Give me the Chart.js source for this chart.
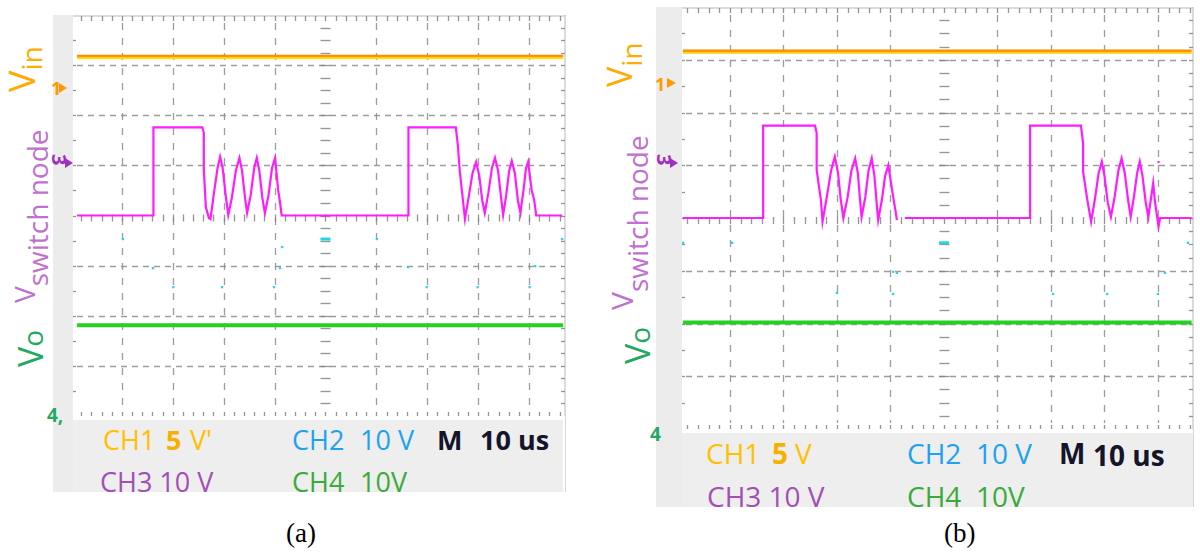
<!DOCTYPE html>
<html>
<head>
<meta charset="utf-8">
<script src="https://cdn.jsdelivr.net/npm/chart.js@4.4.1/dist/chart.umd.min.js"></script>
<style>
  html, body { margin: 0; padding: 0; background: #fff; }
  #stage { position: relative; width: 1200px; height: 553px; overflow: hidden; }
  #deco { position: absolute; left: 0; top: 0; }
  .plot { position: absolute; }
  .lbl { font-family: "Open Sans", sans-serif; }
</style>
</head>
<body>
<div id="stage">
  <svg id="deco" width="1200" height="553" xmlns="http://www.w3.org/2000/svg">
    <!-- scope (a): side strip and readout box -->
    <rect x="53" y="15" width="20" height="477" fill="#ececec"/>
    <rect x="73" y="420" width="490" height="72" fill="#eeeeee"/>
    <line x1="565.5" y1="416" x2="565.5" y2="492" stroke="#d6d6d6"/>

    <!-- scope (b): side strip and readout box -->
    <rect x="656" y="7" width="26" height="500" fill="#ececec"/>
    <rect x="682" y="433" width="511" height="74" fill="#eeeeee"/>
    <line x1="1193.5" y1="429" x2="1193.5" y2="507" stroke="#d6d6d6"/>

    <!-- trace names, scope (a) -->
    <text class="lbl" transform="translate(35,92) rotate(-90)" font-size="36" fill="#ffab00">V<tspan font-size="28" dy="7">in</tspan></text>
    <text class="lbl" transform="translate(35,303) rotate(-90)" font-size="28" fill="#c070cf">V<tspan dy="13">switch node</tspan></text>
    <text class="lbl" transform="translate(43,367) rotate(-90)" fill="#22a860"><tspan font-size="34">V</tspan><tspan font-size="28">o</tspan></text>

    <!-- trace names, scope (b) -->
    <text class="lbl" transform="translate(632,87) rotate(-90)" font-size="34" fill="#ffab00">V<tspan font-size="28" dy="10">in</tspan></text>
    <text class="lbl" transform="translate(633,310) rotate(-90)" font-size="30" fill="#c070cf">V<tspan font-size="28" dy="15">switch node</tspan></text>
    <text class="lbl" transform="translate(650,364) rotate(-90)" fill="#22a860"><tspan font-size="34">V</tspan><tspan font-size="28">o</tspan></text>

    <!-- channel ground markers, scope (a) -->
    <text x="51" y="95" font-family="Open Sans" font-size="18" font-weight="bold" fill="#ff9a00">1</text>
    <polygon points="59,83 67,88 59,93" fill="#ff9a00"/>
    <text transform="translate(52,154) rotate(90)" font-family="Open Sans" font-size="20" font-weight="bold" fill="#a030c0">3</text>
    <polygon points="65,158 73,163 65,168" fill="#a030c0"/>
    <text x="47" y="422" font-family="Open Sans" font-size="19" font-weight="bold" fill="#22a860">4,</text>

    <!-- channel ground markers, scope (b) -->
    <text x="655" y="91" font-family="Open Sans" font-size="18" font-weight="bold" fill="#ff9a00">1</text>
    <polygon points="667,78 676,83 667,88" fill="#ff9a00"/>
    <text transform="translate(657,154) rotate(90)" font-family="Open Sans" font-size="20" font-weight="bold" fill="#a030c0">3</text>
    <polygon points="670,158 678,163 670,168" fill="#a030c0"/>
    <text x="650" y="441" font-family="Open Sans" font-size="19" font-weight="bold" fill="#22a860">4</text>

    <!-- readout, scope (a) -->
    <g class="lbl" font-size="27">
      <text x="103" y="450" fill="#ffc000">CH1</text>
      <text x="166" y="450" fill="#f5b000" font-weight="bold">5</text>
      <text x="190" y="450" fill="#ffc000">V'</text>
      <text x="292" y="450" fill="#1ea2ee">CH2</text>
      <text x="360" y="450" fill="#1ea2ee">10 V</text>
      <text x="437" y="450" fill="#14142a" font-weight="bold">M</text>
      <text x="480" y="450" fill="#14142a" font-weight="bold">10 us</text>
      <text x="100" y="492" fill="#a24fb5">CH3 10 V</text>
      <text x="292" y="492" fill="#3aab3a">CH4</text>
      <text x="360" y="492" fill="#3aab3a">10V</text>
    </g>

    <!-- readout, scope (b) -->
    <g class="lbl" font-size="28">
      <text x="706" y="464" fill="#ffc000">CH1</text>
      <text x="772" y="464" fill="#f5b000" font-weight="bold">5</text>
      <text x="795" y="464" fill="#ffc000">V</text>
      <text x="907" y="464" fill="#1ea2ee">CH2</text>
      <text x="976" y="464" fill="#1ea2ee">10 V</text>
      <text x="1059" y="464" fill="#14142a" font-weight="bold">M</text>
      <text x="1093" y="466" fill="#14142a" font-weight="bold">10 us</text>
      <text x="707" y="507" fill="#a24fb5">CH3 10 V</text>
      <text x="907" y="507" fill="#3aab3a">CH4</text>
      <text x="976" y="507" fill="#3aab3a">10V</text>
    </g>

    <!-- sub-figure captions -->
    <text x="286" y="542" font-family="Liberation Serif" font-size="27" fill="#000">(a)</text>
    <text x="944" y="542" font-family="Liberation Serif" font-size="27" fill="#000">(b)</text>
  </svg>
  <canvas id="scopeA" class="plot" width="493" height="401" style="left:73px;top:15px"></canvas>
  <canvas id="scopeB" class="plot" width="512" height="422" style="left:682px;top:7px"></canvas>
</div>

<script>
// Graticule: 10 us per horizontal division, vertical axis in divisions.
const xGridUs = [-40, -30, -20, -10, 10, 20, 30, 40];
const yGridDiv = [-3, -2, -1, 1, 2, 3];
const xMinorStepUs = 2;
const yMinorStepDiv = 0.25;

// ---- capture (a) ----
const vinLevelA = 3.16;          // CH1, input voltage (div)
const voLevelA = -2.19;          // CH4, output voltage (div)
const flatSpanA = [-48.8, 46.7]; // record start / end (us)
const swTimeA = [-48.8, -33.8, -33.8, -24.2, -23.9, -23.9, -23.5, -22.9, -22.6, -21.9, -21.2, -20.7,
                 -20.2, -19.6, -19.1, -18.4, -17.6, -16.9, -16.4, -15.8, -15.4, -14.7, -14.0, -13.5,
                 -13.0, -12.4, -11.9, -11.2, -10.5, -9.9, -9.3, -9.0, -8.6, 16.3,
                 16.3, 25.6, 26.0, 26.4, 27.0, 27.4, 28.1, 28.9, 29.6, 30.2, 30.8, 31.3,
                 32.0, 32.7, 33.3, 33.9, 34.5, 34.9, 35.5, 36.1, 36.6, 37.2, 37.8, 38.3,
                 38.9, 39.4, 39.8, 40.5, 41.0, 41.4, 46.5];
const swLevelA = [0, 0, 1.76, 1.76, 1.65, 0.91, 0.17, -0.05, -0.07, 0.45, 0.95, 1.17,
                  0.95, 0.4, 0.01, 0.35, 0.9, 1.15, 0.9, 0.35, 0.05, 0.4, 0.95, 1.15,
                  0.9, 0.35, 0.05, 0.4, 0.95, 1.15, 0.51, 0.31, 0, 0,
                  1.76, 1.76, 1.41, 0.87, 0.31, -0.07, 0.35, 0.85, 1.07, 0.8, 0.3, 0.05,
                  0.45, 0.95, 1.15, 0.9, 0.35, 0.01, 0.4, 0.9, 1.09, 0.85, 0.3, 0.05,
                  0.5, 0.95, 1.07, 0.51, 0.31, 0, 0];
const ch2TimeA = [-39.8, -33.9, -29.9, -20.3, -10.1, -8.9, -8.5, 10.1, 16.2, 19.9, 29.9, 40.1, 41.2, 46.5];
const ch2LevelA = [-0.47, -1.05, -1.43, -1.43, -1.43, -1.05, -0.63, -0.47, -1.03, -1.43, -1.43, -1.43, -1.01, -0.47];
const ch2DashTimeA = [0];
const ch2DashLevelA = [-0.47];

// ---- capture (b) ----
const vinLevelB = 3.15;
const voLevelB = -1.98;
const flatSpanB = [-48.8, 46.3];
const swTimeB = [-48.8, -33.8, -33.8, -24.1, -23.8, -23.8, -23.0, -22.7, -21.9, -21.1, -20.4,
                 -19.8, -19.3, -18.8, -18.0, -17.3, -16.6, -16.1, -15.7, -15.4, -14.7, -14.1, -13.5,
                 -13.0, -12.6, -12.3, -11.6, -11.0, -10.4, -9.5, -9.0, -8.8, -8.4, -7.3,
                 16.1, 16.1, 25.6, 26.0, 26.0, 26.8, 27.5, 28.2, 28.9, 29.5, 30.0, 30.6, 31.2,
                 31.9, 32.6, 33.2, 33.8, 34.4, 34.9, 35.5, 36.1, 36.6, 37.1, 37.7, 38.2,
                 39.1, 39.4, 40.1, 40.4, 46.3];
const swLevelB = [0, 0, 1.75, 1.75, 1.61, 0.91, 0.34, -0.07, 0.4, 0.9, 1.16,
                  0.85, 0.35, 0, 0.4, 0.9, 1.13, 0.85, 0.35, 0.02, 0.4, 0.9, 1.13,
                  0.8, 0.3, -0.04, 0.35, 0.8, 1.0, 0.4, 0.1, -0.04, null, 0,
                  0, 1.75, 1.75, 1.42, 0.88, 0.34, -0.07, 0.35, 0.85, 1.07, 0.8, 0.3, 0.02,
                  0.4, 0.9, 1.13, 0.85, 0.35, 0.02, 0.4, 0.85, 1.07, 0.8, 0.3, 0.02,
                  0.66, 0.34, -0.16, 0, 0];
const ch2TimeB = [-48.8, -39.6, -20.0, -9.5, -9.5, -8.8, 20.4, 30.5, 40.0, 41.3, 45.6];
const ch2LevelB = [-0.47, -0.47, -1.42, -1.02, -1.44, -1.04, -1.44, -1.44, -1.44, -1.04, -0.47];
const ch2DashTimeB = [0];
const ch2DashLevelB = [-0.47];
const ch3DotTimeB = [40.1];
const ch3DotLevelB = [1.06];

const pts = (ts, vs) => ts.map((t, i) => ({ x: t, y: vs[i] }));
const flat = (span, v) => span.map(t => ({ x: t, y: v }));

// Two-tone yellow/orange stroke of the CH1 trace
function vinStroke(level) {
  return (ctx) => {
    const chart = ctx.chart;
    if (!chart.chartArea) return '#ffb000';
    const py = chart.scales.y.getPixelForValue(level);
    const g = chart.ctx.createLinearGradient(0, py - 2.5, 0, py + 2.5);
    g.addColorStop(0, '#ff8400');
    g.addColorStop(0.45, '#ff9800');
    g.addColorStop(0.55, '#ffd000');
    g.addColorStop(1, '#ffe45a');
    return g;
  };
}

const graticule = {
  id: 'graticule',
  beforeDatasetsDraw(chart) {
    const { ctx, chartArea: a, scales: { x, y } } = chart;
    const seg = (x1, y1, x2, y2) => { ctx.beginPath(); ctx.moveTo(x1, y1); ctx.lineTo(x2, y2); ctx.stroke(); };
    ctx.save();
    ctx.strokeStyle = 'rgba(140,140,140,0.85)';
    ctx.lineWidth = 1.3;
    ctx.setLineDash([6, 5]);
    yGridDiv.forEach(v => { const py = Math.round(y.getPixelForValue(v)) + 0.5; seg(a.left + 4, py, a.right - 4, py); });
    ctx.setLineDash([7, 8]);
    xGridUs.forEach(t => { const px = Math.round(x.getPixelForValue(t)) + 0.5; seg(px, a.top + 8, px, a.bottom - 6); });
    ctx.setLineDash([]);

    // frame
    ctx.strokeStyle = '#cfcfcf';
    ctx.lineWidth = 1.5;
    seg(a.left, a.top + 1, a.right, a.top + 1);
    seg(a.right - 1, a.top, a.right - 1, a.bottom);

    // minor ticks along the centre axes and the frame
    ctx.strokeStyle = 'rgba(130,130,130,0.85)';
    ctx.lineWidth = 1.3;
    const cx = Math.round(x.getPixelForValue(0)) + 0.5;
    const cy = y.getPixelForValue(0);
    for (let v = y.min + yMinorStepDiv; v < y.max; v += yMinorStepDiv) {
      const py = Math.round(y.getPixelForValue(v)) + 0.5;
      seg(cx - 5, py, cx + 5, py);
      seg(a.right - 5, py, a.right - 1, py);
      if (Math.abs(v * 2 - Math.round(v * 2)) < 1e-6) seg(a.left, py, a.left + 3, py);
    }
    const t0 = Math.ceil(x.min / xMinorStepUs) * xMinorStepUs;
    for (let t = t0; t <= x.max; t += xMinorStepUs) {
      const px = Math.round(x.getPixelForValue(t)) + 0.5;
      seg(px, cy - 1, px, cy + 6);
      seg(px, a.top + 1, px, a.top + 6);
      seg(px, a.bottom - 4, px, a.bottom);
    }
    ctx.restore();
  }
};

function scope(id, p) {
  return new Chart(document.getElementById(id), {
    type: 'line',
    data: {
      datasets: [
        { data: pts(p.swTime, p.swLevel), borderColor: '#ff1cff', borderWidth: 2.2, pointRadius: 0, spanGaps: false },
        { data: flat(p.span, p.vin), borderColor: vinStroke(p.vin), borderWidth: 4.5, pointRadius: 0 },
        { data: flat(p.span, p.vo), borderColor: '#24d024', borderWidth: 4, pointRadius: 0 },
        { data: pts(p.ch2Time, p.ch2Level), showLine: false, pointStyle: 'rect', pointRadius: 1.6,
          pointBackgroundColor: '#1ed8ea', pointBorderWidth: 0 },
        { data: pts(p.ch2DashTime, p.ch2DashLevel), showLine: false, pointStyle: 'line', pointRadius: 5,
          pointBorderColor: '#1ed8ea', pointBorderWidth: 3 },
        { data: pts(p.ch3DotTime, p.ch3DotLevel), showLine: false, pointStyle: 'rect', pointRadius: 1.5,
          pointBackgroundColor: '#ff1cff', pointBorderWidth: 0 }
      ]
    },
    options: {
      responsive: false,
      animation: false,
      devicePixelRatio: 1,
      layout: { padding: 0, autoPadding: false },
      elements: { line: { tension: 0 } },
      plugins: { legend: { display: false }, tooltip: { enabled: false } },
      scales: {
        x: { type: 'linear', display: false, min: p.xMin, max: p.xMax },
        y: { type: 'linear', display: false, min: -4, max: 4 }
      }
    },
    plugins: [graticule]
  });
}

scope('scopeA', {
  xMin: -49.6, xMax: 47.25, span: flatSpanA, vin: vinLevelA, vo: voLevelA,
  swTime: swTimeA, swLevel: swLevelA, ch2Time: ch2TimeA, ch2Level: ch2LevelA,
  ch2DashTime: ch2DashTimeA, ch2DashLevel: ch2DashLevelA, ch3DotTime: [], ch3DotLevel: []
});
scope('scopeB', {
  xMin: -48.97, xMax: 46.73, span: flatSpanB, vin: vinLevelB, vo: voLevelB,
  swTime: swTimeB, swLevel: swLevelB, ch2Time: ch2TimeB, ch2Level: ch2LevelB,
  ch2DashTime: ch2DashTimeB, ch2DashLevel: ch2DashLevelB, ch3DotTime: ch3DotTimeB, ch3DotLevel: ch3DotLevelB
});
</script>
</body>
</html>
